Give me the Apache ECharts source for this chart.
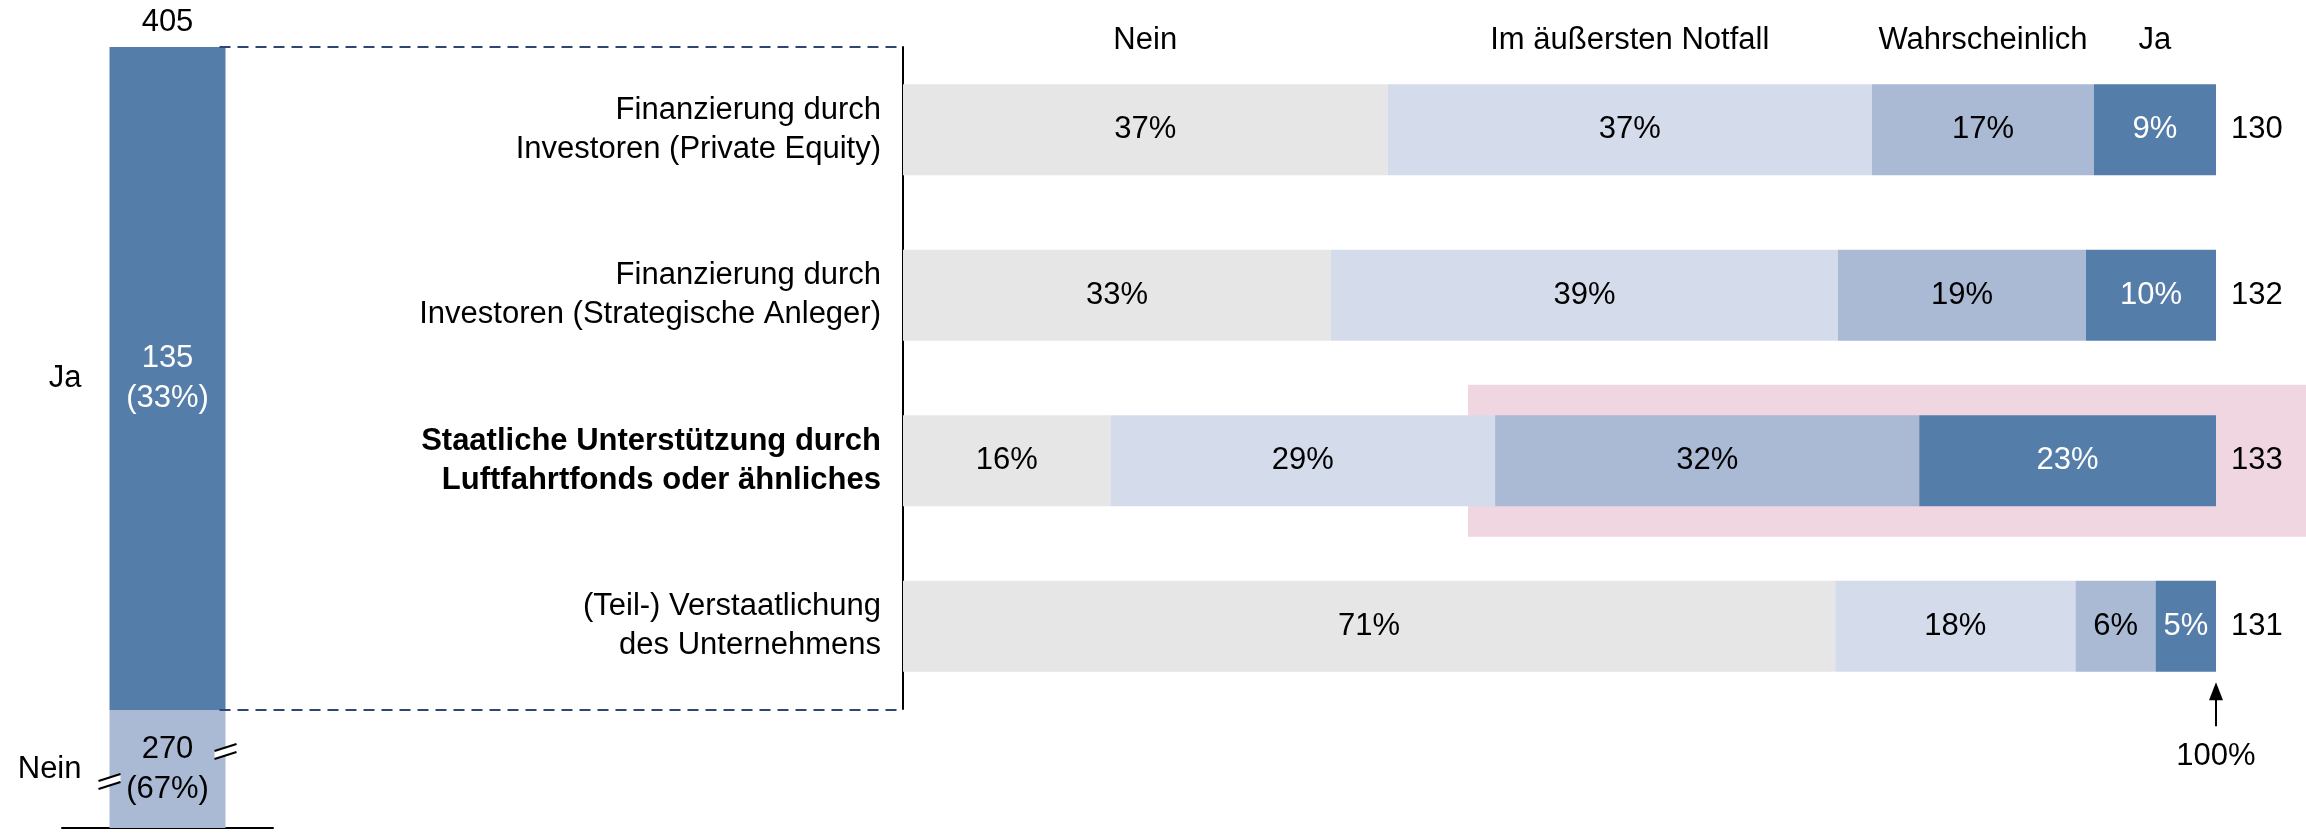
<!DOCTYPE html>
<html>
<head>
<meta charset="utf-8">
<script src="https://cdn.jsdelivr.net/npm/echarts@6/dist/echarts.min.js"></script>
<style>
  html, body { margin: 0; padding: 0; background: #fff; }
  #chart { width: 2306px; height: 833px; }
</style>
</head>
<body>
<div id="chart"></div>
<script>
const categories = [
  'Finanzierung durch\nInvestoren (Private Equity)',
  'Finanzierung durch\nInvestoren (Strategische Anleger)',
  'Staatliche Unterstützung durch\nLuftfahrtfonds oder ähnliches',
  '(Teil-) Verstaatlichung\ndes Unternehmens'
];
const answers = ['Nein', 'Im äußersten Notfall', 'Wahrscheinlich', 'Ja'];
const neinShare = [36.9, 32.6, 15.8, 71.0];
const notfallShare = [36.9, 38.6, 29.3, 18.3];
const wahrscheinlichShare = [16.9, 18.9, 32.3, 6.1];
const jaShare = [9.3, 9.9, 22.6, 4.6];
const respondents = [130, 132, 133, 131];
const highlightIndex = 2;

// left column, answers to the general question
const overviewLabels = ['Nein', 'Ja'];
const overviewCounts = [270, 135];
const overviewTotal = 405;
const overviewBreak = [12, 258]; // part of the "Nein" block that is cut out

const FONT = '"Liberation Sans", Arial, sans-serif';
const colors = ['#e6e6e6', '#d4dbea', '#aab9d4', '#557da9'];
const shares = [neinShare, notfallShare, wahrscheinlichShare, jaShare];

const chart = echarts.init(document.getElementById('chart'));

// header labels sit above the segments of the first row
let acc = 0;
const headerPoints = shares.map((s, i) => {
  const mid = acc + s[0] / 2;
  acc += s[0];
  return { value: [mid, categories[0]], name: answers[i] };
});

const shareSeries = shares.map((s, i) => ({
  name: answers[i],
  type: 'bar',
  stack: 'share',
  xAxisIndex: 0,
  yAxisIndex: 0,
  barWidth: 91,
  itemStyle: { color: colors[i] },
  label: {
    show: true,
    position: 'inside',
    fontSize: 31,
    fontFamily: FONT,
    color: i === 3 ? '#fff' : '#000',
    formatter: p => Math.round(p.value) + '%'
  },
  data: s
}));

const option = {
  animation: false,
  textStyle: { fontFamily: FONT, color: '#000' },
  grid: [
    { left: 903, width: 1313, top: 47, height: 662 },
    { left: 62, width: 211, top: 47, height: 781 }
  ],
  xAxis: [
    { gridIndex: 0, type: 'value', min: 0, max: 100, show: false },
    {
      gridIndex: 1, type: 'category', data: ['all'],
      axisLine: { lineStyle: { color: '#000', width: 2 } },
      axisTick: { show: false }, axisLabel: { show: false }
    }
  ],
  yAxis: [
    {
      gridIndex: 0, type: 'category', inverse: true, data: categories,
      axisLine: { lineStyle: { color: '#000', width: 2 } },
      axisTick: { show: false },
      axisLabel: {
        margin: 22,
        fontSize: 31,
        lineHeight: 39,
        color: '#000',
        align: 'right',
        formatter: (v, i) => i === highlightIndex
          ? v.split('\n').map(s => '{b|' + s + '}').join('\n')
          : v,
        rich: { b: { fontWeight: 'bold', fontSize: 31, lineHeight: 39, color: '#000', fontFamily: FONT } }
      }
    },
    {
      gridIndex: 1, type: 'value', min: 0, max: overviewTotal, show: false,
      breaks: [{ start: overviewBreak[0], end: overviewBreak[1], gap: 0 }],
      breakArea: { show: false }
    }
  ],
  series: [
    ...shareSeries,
    {
      name: 'header',
      type: 'scatter',
      xAxisIndex: 0, yAxisIndex: 0,
      symbolSize: 0,
      silent: true,
      itemStyle: { opacity: 1 },
      label: {
        show: true, position: 'inside', offset: [0, -89],
        fontSize: 31, color: '#000',
        formatter: p => p.name
      },
      data: headerPoints
    },
    {
      name: 'n',
      type: 'scatter',
      xAxisIndex: 0, yAxisIndex: 0,
      symbolSize: 0,
      silent: true,
      itemStyle: { opacity: 1 },
      label: {
        show: true, position: 'right', distance: 15,
        fontSize: 31, color: '#000',
        formatter: p => String(respondents[p.dataIndex])
      },
      data: categories.map(c => [100, c])
    },
    ...overviewLabels.map((name, i) => ({
      name: name,
      type: 'bar',
      stack: 'overview',
      xAxisIndex: 1, yAxisIndex: 1,
      barWidth: 116,
      itemStyle: { color: i === 0 ? '#aab9d4' : '#557da9' },
      label: {
        show: true, position: 'inside',
        fontSize: 31, lineHeight: 40,
        color: i === 0 ? '#000' : '#fff',
        formatter: p => p.value + '\n(' + Math.round(p.value / overviewTotal * 100) + '%)'
      },
      data: [overviewCounts[i]]
    })),
    {
      name: 'overviewText',
      type: 'scatter',
      xAxisIndex: 1, yAxisIndex: 1,
      symbolSize: 0,
      silent: true,
      itemStyle: { opacity: 1 },
      label: { show: true, fontSize: 31, color: '#000', formatter: p => p.name },
      data: [
        { name: String(overviewTotal), value: ['all', overviewTotal], label: { position: 'top', distance: 9 } },
        { name: 'Ja', value: ['all', overviewCounts[0] + overviewCounts[1] / 2], label: { position: 'left', distance: 86 } },
        { name: 'Nein', value: ['all', overviewBreak[0]], label: { position: 'left', distance: 86 } }
      ]
    }
  ]
};

chart.setOption(option);

// connectors and notes, placed from the axes
const x100 = chart.convertToPixel({ xAxisIndex: 0 }, 100);
const xAxisStart = chart.convertToPixel({ xAxisIndex: 0 }, 0) - 1;
const barCenter = chart.convertToPixel({ xAxisIndex: 1 }, 'all');
const yTop = chart.convertToPixel({ yAxisIndex: 1 }, overviewTotal);
const ySplit = chart.convertToPixel({ yAxisIndex: 1 }, overviewCounts[0]);
const yBreak = chart.convertToPixel({ yAxisIndex: 1 }, overviewBreak[0]);
const yHighlight = chart.convertToPixel({ yAxisIndex: 0 }, categories[highlightIndex]);
const yLast = chart.convertToPixel({ yAxisIndex: 0 }, categories[categories.length - 1]);

const dashStyle = { stroke: '#2e4677', lineWidth: 2, lineDash: [11, 7] };
function slash(cx, cy) {
  return [
    { type: 'polygon', z: 100, shape: { points: [[cx - 11, cy], [cx + 11, cy - 7], [cx + 11, cy + 1], [cx - 11, cy + 8]] }, style: { fill: '#fff' } },
    { type: 'line', z: 101, shape: { x1: cx - 11, y1: cy, x2: cx + 11, y2: cy - 7 }, style: { stroke: '#000', lineWidth: 2 } },
    { type: 'line', z: 101, shape: { x1: cx - 11, y1: cy + 8, x2: cx + 11, y2: cy + 1 }, style: { stroke: '#000', lineWidth: 2 } }
  ];
}

chart.setOption({
  graphic: [
    { type: 'rect', z: -10, shape: { x: 1468, y: yHighlight - 76, width: 2306 - 1468, height: 152 }, style: { fill: '#efd6e1' } },
    { type: 'line', z: 50, shape: { x1: barCenter + 52, y1: yTop, x2: xAxisStart, y2: yTop }, style: dashStyle },
    { type: 'line', z: 50, shape: { x1: barCenter + 52, y1: ySplit, x2: xAxisStart, y2: ySplit }, style: dashStyle },
    ...slash(barCenter + 58, yBreak - 18),
    ...slash(barCenter - 58, yBreak + 12),
    { type: 'line', z: 50, shape: { x1: x100, y1: yLast + 62, x2: x100, y2: yLast + 100 }, style: { stroke: '#000', lineWidth: 2 } },
    { type: 'polygon', z: 50, shape: { points: [[x100, yLast + 56], [x100 - 7, yLast + 74], [x100 + 7, yLast + 74]] }, style: { fill: '#000' } },
    { type: 'text', z: 50, x: x100, y: yLast + 130, style: { text: '100%', font: '31px ' + FONT, fill: '#000', textAlign: 'center', textVerticalAlign: 'middle' } }
  ]
});
</script>
</body>
</html>
